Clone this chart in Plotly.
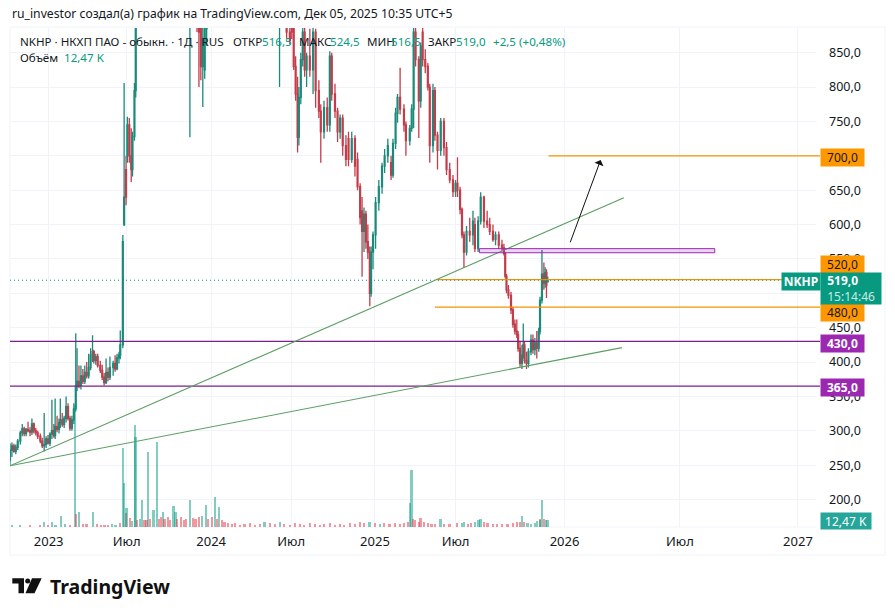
import plotly.graph_objects as go

# Daily bars are spaced evenly on the time scale, so x is a bar number.
bars = [0,3,6,9,12,16,19,22,25,28,
31,34,37,40,43,47,50,53,56,59,
62,65,68,70,73,76,78,81,84,87,
90,93,96,99,102,104,107,110,113,116,
119,122,125,128,130,133,136,140,143,146,
149,152,155,160,163,166,169,171,175,177,
180,182,185,188,190,193,195,198,215,240,
265,279,290,293,296,299,302,305,330,370,
400,418,423,429,434,437,440,443,446,448,
451,454,457,460,465,470,474,479,482,487,
492,496,499,504,508,512,516,521,525,530,
535,539,543,546,549,552,555,558,560,563,
567,572,577,581,586,591,594,598,601,605,
611,614,620,623,626,629,634,637,640,644,
648,651,656,659,663,668,673,677,682,687,
691,694,698,701,704,708,713,718,721,726,
730,735,740,744,749,753,758,763,766,768,
770,773,777,780,783,786,788,791,794,796,
798,801,804,808,811,814,817,820,822,825,
828,830,832,834]
opens = [257,272,278,270,276,285,297,303,296,302,
300,298,310,300,297,292,285,278,280,288,
282,295,300,293,306,302,312,316,309,318,
335,318,304,316,332,365,372,366,380,372,
385,380,392,410,415,402,408,395,388,378,
370,385,378,392,398,390,406,410,425,600,
680,700,745,700,680,728,795,930,1010,1250,
1200,930,1000,920,890,830,825,885,960,1080,
1180,950,950,930,880,900,885,830,790,727,
785,840,880,825,845,825,880,795,765,735,
770,745,845,790,765,735,755,715,725,695,
725,695,655,620,590,615,575,560,500,560,
585,632,655,685,700,690,672,718,762,785,
768,745,722,740,768,880,840,780,880,840,
830,800,715,795,730,708,750,712,680,665,
648,660,650,622,585,560,590,585,600,565,
605,640,605,600,590,578,585,570,566,558,
525,505,497,476,455,445,440,420,398,410,
425,402,398,415,432,418,428,420,445,490,
528,515,530,516.5]
highs = [282,283,281,280,288,300,310,306,304,313,
305,318,312,304,300,296,290,326,292,294,
298,345,310,347,322,318,347,326,322,350,
340,322,322,340,442,420,395,395,390,395,
400,412,420,439,418,412,412,402,396,384,
405,392,408,402,410,412,415,446,585,806,
700,757,755,740,735,806,960,1040,1300,1400,
1300,1060,1040,960,900,900,900,980,1100,1250,
1250,1050,990,960,900,920,900,845,815,800,
850,895,890,850,885,890,885,810,775,780,
785,852,850,805,770,760,760,730,735,735,
730,705,660,640,625,620,600,568,568,590,
640,665,690,710,725,700,725,770,790,828,
775,750,745,775,900,900,845,865,900,855,
835,805,805,800,735,755,755,720,690,672,
665,698,655,625,590,598,610,620,610,612,
647,642,620,610,600,590,590,578,572,560,
528,512,502,480,462,462,445,430,425,456,
430,415,420,440,440,435,445,450,495,563,
545,538,535,524.5]
lows = [250,262,268,266,272,280,292,292,292,298,
292,294,296,293,288,282,275,270,275,280,
278,288,290,288,298,296,304,306,304,312,
315,300,300,310,328,358,362,360,368,368,
376,376,388,400,398,396,392,384,374,366,
368,372,374,380,386,388,398,404,420,598,
628,690,690,662,670,722,785,900,980,1150,
1050,727,880,800,810,771,812,860,940,1000,
1000,800,890,870,862,870,825,780,705,715,
775,830,815,800,815,790,770,755,690,725,
735,735,780,755,720,725,700,685,685,690,
670,650,600,524,560,565,550,481,495,535,
565,620,645,675,690,665,668,710,748,760,
735,700,715,735,740,830,726,770,830,820,
795,690,705,722,680,700,700,672,660,640,
640,640,615,580,537,555,575,570,560,560,
600,595,595,585,575,570,565,562,555,522,
500,492,470,450,440,435,415,393,390,405,
398,390,392,410,412,410,405,415,440,485,
505,508,493,516.5]
closes = [272,278,270,276,285,297,303,296,302,300,
298,310,300,297,292,285,278,280,288,282,
295,300,293,306,302,312,316,309,318,335,
318,304,316,332,365,372,366,380,372,385,
380,392,410,415,402,408,395,388,378,370,
385,378,392,398,390,406,410,425,575,640,
640,745,700,680,728,795,930,1010,1250,1200,
1100,1000,920,880,830,870,885,960,1080,1180,
1050,1000,900,880,868,880,830,790,727,785,
840,880,825,845,825,880,795,765,735,770,
745,845,790,765,735,755,715,695,695,725,
685,655,610,590,615,575,560,500,560,585,
632,655,685,700,715,672,718,762,785,768,
745,722,740,768,880,840,780,860,840,830,
800,715,795,730,708,750,712,680,665,648,
660,650,622,585,560,590,585,605,565,605,
640,605,600,590,578,585,570,566,558,525,
505,497,476,455,445,440,420,398,410,425,
402,398,415,432,418,428,420,445,490,528,
515,530,512,519]

vol_bars = [3,16,31,47,53,59,65,71,79,85,93,101,103,107,113,119,129,135,141,147,
152,158,164,171,175,177,180,181,186,189,194,195,198,202,205,209,212,215,218,223,
228,231,234,237,240,245,248,254,257,260,265,270,274,279,284,288,293,298,304,308,
313,318,321,324,329,333,338,344,350,357,364,372,380,388,395,403,411,419,426,434,
442,450,457,465,473,481,488,496,504,512,519,527,535,543,550,558,566,574,581,589,
597,605,611,617,621,623,626,629,634,637,642,648,654,660,668,674,682,693,701,705,
710,716,722,727,730,735,741,749,756,764,772,780,787,792,795,798,803,809,815,818,
822,823,825,828,831,834]
vol_k = [2,2,2,2,9,2,9,4,20,5,3,220,23,27,6,5,27,5,4,3,
4,5,4,7,142,80,25,34,16,10,184,162,12,14,49,12,12,135,14,31,
153,14,18,27,14,18,12,38,27,14,18,12,14,49,16,14,18,20,40,14,
18,54,14,36,12,9,7,5,7,4,5,7,4,5,9,7,5,9,5,4,
7,5,4,7,5,4,5,7,4,5,4,7,5,9,7,9,7,5,7,5,
7,5,7,9,43,103,14,13,9,16,9,7,5,5,14,5,5,7,7,9,
5,7,9,12,14,9,7,5,5,5,5,7,9,9,20,9,7,5,7,11,
14,13,49,14,12,12.47]
vol_up = [1,1,0,0,1,0,1,1,1,1,0,1,0,1,0,0,1,0,0,0,
0,1,1,0,1,1,0,1,0,1,1,1,0,1,1,0,0,1,0,1,
1,0,0,1,0,0,0,1,1,0,0,0,0,1,0,0,0,1,1,0,
0,1,0,1,0,0,0,0,0,0,0,0,0,0,1,0,0,1,0,0,
0,0,0,0,0,0,0,0,0,0,0,0,0,0,0,1,0,1,0,0,
0,0,0,0,1,1,0,0,0,0,0,0,0,0,1,0,0,0,1,1,
0,0,1,1,1,0,0,0,0,0,0,0,0,0,1,0,1,1,1,1,
0,1,1,0,1,1]

price_ticks = [200,250,300,350,400,450,500,550,600,650,700,750,800,850]
time_ticks = [60,181,312,436,566,691,860,1039,1222]
time_labels = ["2023","Июл","2024","Июл","2025","Июл","2026","Июл","2027"]

LAST_PRICE = 519.0
LEVEL_BOTTOM, LEVEL_TOP = 365, 430
ORANGE_LEVELS = [480, 520, 700]
ORANGE_STARTS = [659, 662, 835]
TREND_BARS = [(0, 952), (0, 949)]
TREND_PRICES = [(249, 639), (249, 421)]
ZONE_BARS = (728, 1093)
ZONE_PRICES = (559, 565)
ARROW_BARS = (868, 916)
ARROW_PRICES = (572, 694)

GREEN, RED = "#089981", "#E8303F"
WICK_UP, WICK_DOWN = "#1B8A7A", "#C43C4A"
ORANGE, PURPLE = "#F59300", "#9C27B0"
LINE_PURPLE, TREND = "#7B1F8C", "#5C9F62"
GRID = "#F0F3FA"
INK = "#131722"
FONT = "Noto Sans"

L, R, T, B, W, H = 10, 816, 28, 527, 895, 616
fx = lambda x: (x - L) / (R - L)
fy = lambda y: (B - y) / (B - T)

fig = go.Figure()
fig.add_bar(
    x=vol_bars, y=vol_k, yaxis="y2", width=2.5, hoverinfo="skip",
    marker=dict(color=[GREEN if u else RED for u in vol_up], opacity=0.5, line_width=0),
)
fig.add_candlestick(
    x=bars, open=opens, high=highs, low=lows, close=closes, whiskerwidth=0,
    increasing=dict(line=dict(color=WICK_UP, width=1.3), fillcolor=GREEN),
    decreasing=dict(line=dict(color=WICK_DOWN, width=1.3), fillcolor=RED),
)

shapes = [
    dict(type="rect", xref="paper", yref="paper", x0=0, x1=fx(885), y0=fy(555), y1=fy(27),
         line=dict(color=GRID, width=1), layer="below"),
    dict(type="line", xref="paper", yref="paper", x0=0, x1=1, y0=0, y1=0,
         line=dict(color=GRID, width=1), layer="below"),
]
for lvl in (LEVEL_TOP, LEVEL_BOTTOM):
    shapes.append(dict(type="line", xref="paper", yref="y", x0=0, x1=fx(820), y0=lvl, y1=lvl,
                       line=dict(color=LINE_PURPLE, width=1.4)))
for lvl, start in zip(ORANGE_LEVELS, ORANGE_STARTS):
    shapes.append(dict(type="line", xref="paper", yref="y", x0=start / 1250, x1=fx(820), y0=lvl, y1=lvl,
                       line=dict(color=ORANGE, width=1.3)))
shapes.append(dict(type="line", xref="paper", yref="y", x0=0, x1=fx(781), y0=LAST_PRICE, y1=LAST_PRICE,
                   line=dict(color=GREEN, width=1, dash="1px,3px")))
for tb, tp in zip(TREND_BARS, TREND_PRICES):
    shapes.append(dict(type="line", xref="x", yref="y", x0=tb[0], x1=tb[1], y0=tp[0], y1=tp[1],
                       line=dict(color=TREND, width=1.1)))
shapes.append(dict(type="rect", xref="x", yref="y", x0=ZONE_BARS[0], x1=ZONE_BARS[1],
                   y0=ZONE_PRICES[0], y1=ZONE_PRICES[1],
                   line=dict(color=PURPLE, width=1), fillcolor="rgba(156,39,176,0.2)"))

# TradingView mark
def poly(points):
    return "M " + " L ".join(f"{fx(a):.5f},{fy(b):.5f}" for a, b in points) + " Z"
shapes += [
    dict(type="path", xref="paper", yref="paper", path=poly([(12.3, 578.3), (24, 578.3), (24, 593.3), (18.5, 593.3), (18.5, 583.5), (12.3, 583.5)]),
         fillcolor="#111", line_width=0),
    dict(type="path", xref="paper", yref="paper", path=poly([(32, 578.3), (41.7, 578.3), (34.5, 593.3), (25.5, 593.3)]),
         fillcolor="#111", line_width=0),
    dict(type="circle", xref="paper", yref="paper", x0=fx(25.2), x1=fx(30.2), y0=fy(583.5), y1=fy(578.5),
         fillcolor="#111", line_width=0),
]

def text(x, y, s, color=INK, size=11.6, anchor="left", **kw):
    return dict(xref="paper", yref="paper", x=fx(x), y=fy(y), text=s, showarrow=False,
                xanchor=anchor, yanchor="middle", font=dict(family=FONT, size=size, color=color), **kw)

def box(x, y, w, h, s, bg, fg="#FFFFFF", size=12, align="center"):
    return dict(xref="paper", yref="paper", x=fx(x), y=fy(y), text=s, showarrow=False,
                xanchor="left", yanchor="top", width=w, height=h, bgcolor=bg, align=align,
                valign="middle", borderpad=0, font=dict(family=FONT, size=size, color=fg))

notes = [
    text(10, 14, "ru_investor создал(а) график на TradingView.com, Дек 05, 2025 10:35 UTC+5", size=12.2),
    text(18, 41, "NKHP · НКХП ПАО - обыкн. · 1Д · RUS"),
    text(231, 41, "ОТКР"), text(260, 41, "516,5", GREEN),
    text(297, 41, "МАКС"), text(328, 41, "524,5", GREEN),
    text(365, 41, "МИН"), text(389, 41, "516,5", GREEN),
    text(426, 41, "ЗАКР"), text(454, 41, "519,0", GREEN),
    text(491, 41, "+2,5 (+0,48%)", GREEN),
    text(18, 58, "Объём"), text(62, 58, "12,47 K", GREEN),
    box(820, 148, 43, 17, "700,0", "#FF9800", INK),
    box(820, 255, 43, 17, "520,0", "#FF9800", INK),
    box(820, 303, 43, 17, "480,0", "#FF9800", INK),
    box(820, 334, 43, 17, "<b>430,0</b>", PURPLE),
    box(820, 378, 43, 17, "<b>365,0</b>", PURPLE),
    box(781, 272, 38, 17, "<b>NKHP</b>", GREEN),
    box(820, 272, 60, 31, "&nbsp;&nbsp;<b>519,0</b><br>&nbsp;&nbsp;<span style='color:#C8EBE4'>15:14:46</span>", GREEN, align="left"),
    box(820, 512, 50, 16, "12,47 K", "#26A69A"),
    dict(x=ARROW_BARS[1], y=ARROW_PRICES[1], ax=ARROW_BARS[0], ay=ARROW_PRICES[0],
         xref="x", yref="y", axref="x", ayref="y", text="", showarrow=True,
         arrowhead=1, arrowsize=1.6, arrowwidth=1, arrowcolor="#111111"),
    text(48, 586, "<b>TradingView</b>", "#111111", size=19.5),
]

fig.update_layout(
    width=W, height=H, autosize=False, showlegend=False, bargap=0, boxgap=0,
    paper_bgcolor="white", plot_bgcolor="white",
    margin=dict(l=L, r=W - R, t=T, b=H - B, pad=0),
    font=dict(family=FONT, size=12, color=INK),
    shapes=shapes, annotations=notes,
    xaxis=dict(range=[0, 1250], tickmode="array", tickvals=time_ticks, ticktext=time_labels,
               showgrid=True, gridcolor=GRID, gridwidth=1, zeroline=False, showline=False,
               rangeslider=dict(visible=False), ticks="", ticklabelstandoff=5,
               tickfont=dict(size=13, color=INK)),
    yaxis=dict(range=[160, 886], side="right", tickmode="array", tickvals=price_ticks,
               ticktext=[f"{p},0" for p in price_ticks], showgrid=True, gridcolor=GRID, gridwidth=1,
               zeroline=False, showline=False, ticks="", ticklabelstandoff=12,
               tickfont=dict(size=12.5, color=INK)),
    yaxis2=dict(overlaying="y", range=[0, 898], visible=False, fixedrange=True),
)
fig.write_html("out.html", config=dict(displayModeBar=False),
               post_script="document.body.style.margin='0';")
